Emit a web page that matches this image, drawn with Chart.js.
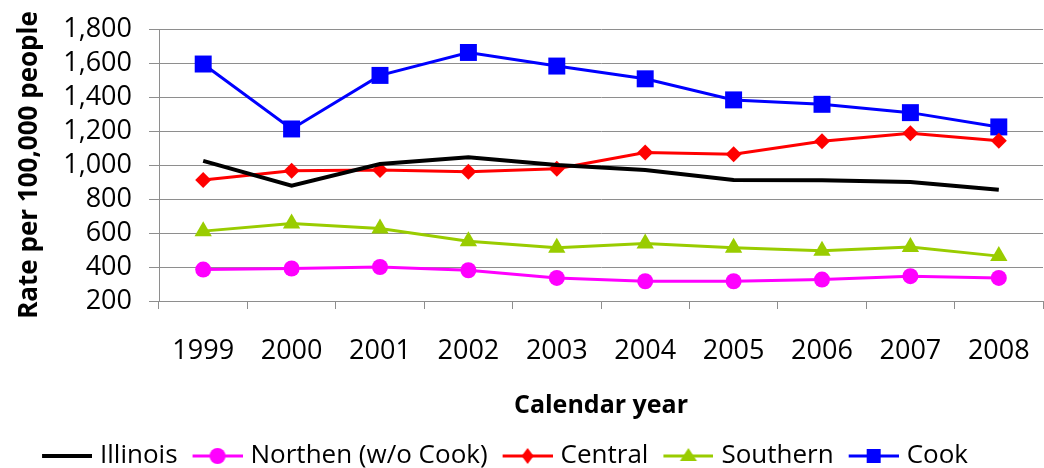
<!DOCTYPE html>
<html>
<head>
<meta charset="utf-8">
<script src="https://cdn.jsdelivr.net/npm/chart.js@4/dist/chart.umd.min.js"></script>
<style>
  html, body { margin: 0; padding: 0; background: #fff; }
  #wrap { width: 1044px; height: 468px; }
</style>
</head>
<body>
<div id="wrap"><canvas id="rates" width="1044" height="468"></canvas></div>
<script>
const years = ['1999', '2000', '2001', '2002', '2003', '2004', '2005', '2006', '2007', '2008'];

const illinois = [1024, 878, 1006, 1045, 1000, 971, 912, 910, 900, 854];
const northern = [385, 391, 400, 381, 336, 316, 316, 326, 346, 336];
const central = [912, 966, 970, 960, 978, 1073, 1063, 1140, 1187, 1143];
const southern = [611, 656, 627, 552, 513, 538, 513, 495, 518, 464];
const cook = [1594, 1212, 1527, 1662, 1582, 1507, 1383, 1357, 1308, 1224];

const yTicks = [200, 400, 600, 800, 1000, 1200, 1400, 1600, 1800];

const FONT = "'Open Sans', 'Noto Sans', sans-serif";
const GRID = '#8e8e8e';

// legend swatch: short line with the marker in the middle.
// image is 60 wide but only 50 are reserved, so the line sits right next to the text
function swatch(color, width, marker) {
  const c = document.createElement('canvas');
  c.width = 60; c.height = 22;
  const g = c.getContext('2d');
  const cx = 35, cy = 11;
  g.strokeStyle = color;
  g.lineWidth = width;
  g.beginPath(); g.moveTo(10, cy); g.lineTo(60, cy); g.stroke();
  g.fillStyle = color;
  g.beginPath();
  if (marker === 'circle') {
    g.arc(cx, cy, 8, 0, Math.PI * 2);
  } else if (marker === 'diamond') {
    g.moveTo(cx - 6, cy); g.lineTo(cx, cy - 8); g.lineTo(cx + 6, cy); g.lineTo(cx, cy + 8);
  } else if (marker === 'triangle') {
    g.moveTo(cx, cy - 8); g.lineTo(cx + 8.5, cy + 5); g.lineTo(cx - 8.5, cy + 5);
  } else if (marker === 'square') {
    g.rect(cx - 7, cy - 7, 14, 14);
  }
  g.closePath();
  if (marker) g.fill();
  return c;
}

const series = [
  { label: 'Illinois', data: illinois, color: '#000000', width: 4, style: false, radius: 0, marker: null },
  { label: 'Northen (w/o Cook)', data: northern, color: '#ff00ff', width: 3, style: 'circle', radius: 8, marker: 'circle' },
  { label: 'Central', data: central, color: '#ff0000', width: 3, style: 'rectRot', radius: 8, marker: 'diamond' },
  { label: 'Southern', data: southern, color: '#99cc00', width: 3, style: 'triangle', radius: 10, marker: 'triangle' },
  { label: 'Cook', data: cook, color: '#0000ff', width: 3, style: 'rect', radius: 12, marker: 'square' }
];

const legendImages = series.map(s => swatch(s.color, s.width, s.marker));

// the legend in the original sits a little left of centre
const legendShift = {
  id: 'legendShift',
  afterLayout(chart) {
    chart.legend.left -= 19;
    chart.legend.right -= 19;
  }
};

Chart.defaults.color = '#000';
Chart.defaults.font.family = FONT;

new Chart(document.getElementById('rates'), {
  type: 'line',
  data: {
    labels: years,
    datasets: series.map(s => ({
      label: s.label,
      data: s.data,
      borderColor: s.color,
      backgroundColor: s.color,
      borderWidth: s.width,
      pointStyle: s.style,
      pointRadius: s.radius,
      pointHoverRadius: s.radius,
      pointBorderWidth: 0,
      tension: 0
    }))
  },
  options: {
    responsive: false,
    animation: false,
    layout: { autoPadding: false, padding: { top: 29, right: 1, bottom: -11, left: 0 } },
    plugins: {
      tooltip: { enabled: false },
      legend: {
        position: 'bottom',
        labels: {
          usePointStyle: true,
          pointStyleWidth: 50,
          padding: 10,
          font: { size: 26, family: FONT },
          generateLabels: chart => chart.data.datasets.map((ds, i) => ({
            text: ds.label,
            pointStyle: legendImages[i],
            fillStyle: ds.borderColor,
            strokeStyle: ds.borderColor,
            lineWidth: 0,
            hidden: false,
            datasetIndex: i
          }))
        }
      }
    },
    scales: {
      x: {
        offset: true,
        grid: { offset: true, drawOnChartArea: false, drawTicks: true, tickLength: 8, color: GRID },
        border: { display: true, color: GRID },
        ticks: { padding: 5, font: { size: 27, lineHeight: 2.78 }, maxRotation: 0, autoSkip: false },
        title: { display: true, text: 'Calendar year', font: { size: 25, weight: 'bold' }, padding: { top: 20, bottom: 12 } },
        afterFit: scale => {
          scale.height = 132;
          scale.paddingLeft = 0;
          scale.paddingRight = 0;
        }
      },
      y: {
        min: 200,
        max: 1800,
        afterBuildTicks: scale => { scale.ticks = yTicks.map(v => ({ value: v })); },
        grid: { color: GRID, tickLength: 10 },
        border: { display: true, color: GRID },
        ticks: {
          padding: 17,
          autoSkip: false,
          font: { size: 27 },
          callback: v => v.toLocaleString('en-US')
        },
        title: { display: true, text: 'Rate per 100,000 people', font: { size: 26, weight: 'bold' }, padding: { top: 14, bottom: 4 } },
        afterFit: scale => {
          scale.width = 159;
          scale.paddingTop = 0;
          scale.paddingBottom = 0;
        }
      }
    }
  },
  plugins: [legendShift]
});
</script>
</body>
</html>
